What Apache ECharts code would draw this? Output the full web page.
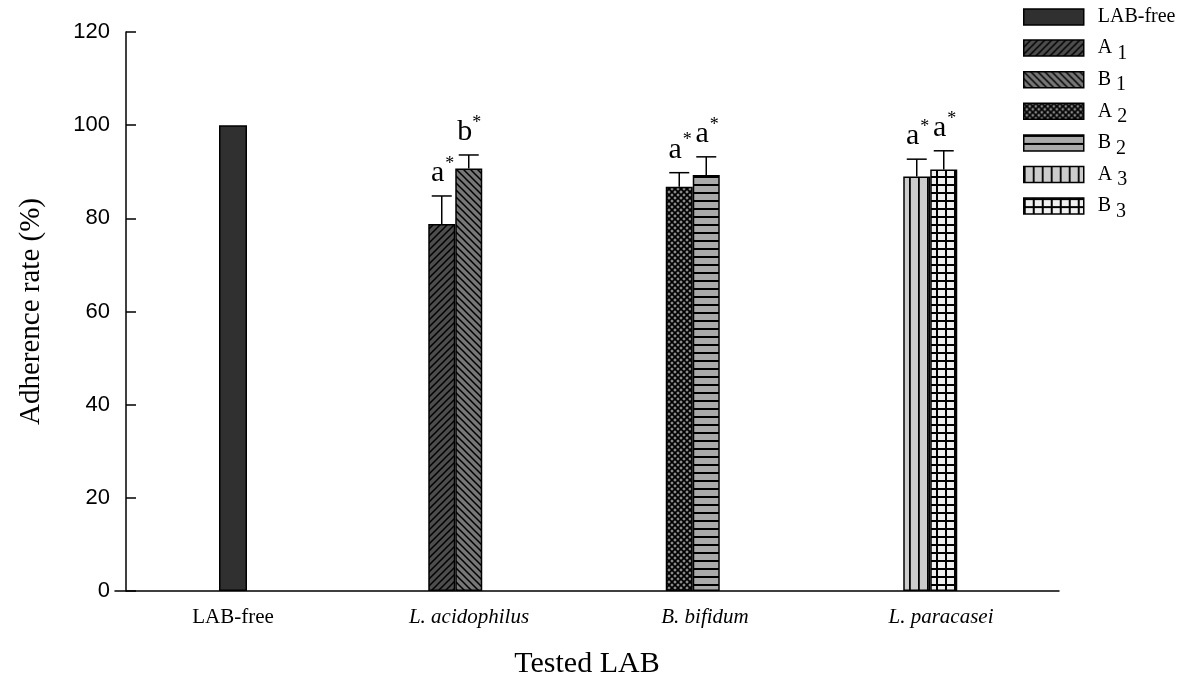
<!DOCTYPE html>
<html>
<head>
<meta charset="utf-8">
<script src="https://cdn.jsdelivr.net/npm/echarts@6/dist/echarts.min.js"></script>
<style>
  html, body { margin: 0; padding: 0; background: #fff; }
  #chart { width: 1203px; height: 685px; }
</style>
</head>
<body>
<div id="chart"></div>
<script>
// data
const categories = ['LAB-free', 'L. acidophilus', 'B. bifidum', 'L. paracasei'];
const legendNames = ['LAB-free', 'A1', 'B1', 'A2', 'B2', 'A3', 'B3'];
const labFreeValue = 100;
// strain pairs for categories 1..3
const meansA = [78.8, 86.8, 89.0];
const meansB = [90.7, 89.3, 90.5];
const errorsA = [6.0, 3.0, 3.7];
const errorsB = [2.9, 3.9, 4.0];
const lettersA = ['a', 'a', 'a'];
const lettersB = ['b', 'a', 'a'];
const yTicks = [0, 20, 40, 60, 80, 100, 120];

const BAR_W = 27;
const SERIF = '"Liberation Serif", "Times New Roman", serif';
const SANS = '"Liberation Sans", Arial, sans-serif';

function pattern(w, h, bg, draw) {
  const c = document.createElement('canvas');
  c.width = w; c.height = h;
  const ctx = c.getContext('2d');
  ctx.fillStyle = bg;
  ctx.fillRect(0, 0, w, h);
  ctx.strokeStyle = '#000';
  ctx.fillStyle = '#000';
  draw(ctx, w, h);
  return { image: c, repeat: 'repeat' };
}

function line(ctx, x1, y1, x2, y2, lw) {
  ctx.lineWidth = lw;
  ctx.beginPath();
  ctx.moveTo(x1, y1);
  ctx.lineTo(x2, y2);
  ctx.stroke();
}

const fills = {
  'LAB-free': '#303030',
  A1: pattern(7, 7, '#4d4d4d', (ctx, w, h) => {
    line(ctx, -1, h + 1, w + 1, -1, 1.5);
    line(ctx, -1, 1, 1, -1, 1.5);
    line(ctx, w - 1, h + 1, w + 1, h - 1, 1.5);
  }),
  B1: pattern(7, 7, '#777777', (ctx, w, h) => {
    line(ctx, -1, -1, w + 1, h + 1, 1.5);
    line(ctx, w - 1, -1, w + 1, 1, 1.5);
    line(ctx, -1, h - 1, 1, h + 1, 1.5);
  }),
  A2: pattern(6, 6, '#8c8c8c', (ctx, w, h) => {
    line(ctx, -1, -1, w + 1, h + 1, 1.7);
    line(ctx, -1, h + 1, w + 1, -1, 1.7);
    line(ctx, w - 1, -1, w + 1, 1, 1.7);
    line(ctx, -1, h - 1, 1, h + 1, 1.7);
    line(ctx, -1, 1, 1, -1, 1.7);
    line(ctx, w - 1, h + 1, w + 1, h - 1, 1.7);
  }),
  B2: pattern(8, 8, '#aaaaaa', (ctx, w) => { ctx.fillRect(0, 0, w, 2); }),
  A3: pattern(9, 8, '#cccccc', (ctx, w, h) => { ctx.fillRect(0, 0, 1.8, h); }),
  B3: pattern(9, 8, '#f0f0f0', (ctx, w, h) => {
    ctx.fillRect(0, 0, 2, h);
    ctx.fillRect(0, 0, w, 2);
  })
};

const barStyle = name => ({ color: fills[name], borderColor: '#000', borderWidth: 1.5 });

const series = [{
  name: 'LAB-free',
  type: 'bar',
  xAxisIndex: 0,
  yAxisIndex: 0,
  barWidth: 28,
  data: categories.map((c, i) => (i === 0 ? labFreeValue : '-')),
  itemStyle: barStyle('LAB-free')
}];

const errorPoints = [];
meansA.forEach((m, k) => {
  const cat = k + 1;
  ['A', 'B'].forEach(side => {
    const name = side + cat;
    const v = side === 'A' ? meansA[k] : meansB[k];
    series.push({
      name,
      type: 'bar',
      xAxisIndex: 1,
      yAxisIndex: 1,
      stack: side,
      barWidth: BAR_W,
      barGap: '0%',
      data: categories.map((c, i) => (i === cat ? v : '-')),
      itemStyle: barStyle(name)
    });
    errorPoints.push({
      value: [cat, v, side === 'A' ? errorsA[k] : errorsB[k], side === 'A' ? -1 : 1],
      letter: side === 'A' ? lettersA[k] : lettersB[k]
    });
  });
});

series.push({
  type: 'custom',
  xAxisIndex: 1,
  yAxisIndex: 1,
  z: 10,
  silent: true,
  data: errorPoints.map(p => p.value),
  renderItem: (params, api) => {
    const cat = api.value(0);
    const mean = api.value(1);
    const err = api.value(2);
    const side = api.value(3);
    const base = api.coord([cat, mean]);
    const top = api.coord([cat, mean + err]);
    const x = base[0] + side * BAR_W / 2;
    const letter = errorPoints[params.dataIndex].letter;
    const stroke = { stroke: '#000', lineWidth: 1.5 };
    return {
      type: 'group',
      children: [
        { type: 'line', shape: { x1: x, y1: base[1], x2: x, y2: top[1] }, style: stroke },
        { type: 'line', shape: { x1: x - 10, y1: top[1], x2: x + 10, y2: top[1] }, style: stroke },
        { type: 'text', style: { text: letter, x: x - 4, y: top[1] - 8, font: '30px ' + SERIF, fill: '#000', align: 'center', verticalAlign: 'bottom' } },
        { type: 'text', style: { text: '*', x: x + 8, y: top[1] - 32, font: '18px ' + SERIF, fill: '#000', align: 'center', verticalAlign: 'middle' } }
      ]
    };
  }
});

const chart = echarts.init(document.getElementById('chart'));

chart.setOption({
  animation: false,
  backgroundColor: '#fff',
  legend: {
    orient: 'vertical',
    left: 1023,
    top: 2,
    padding: 0,
    itemWidth: 60,
    itemHeight: 16,
    itemGap: 0.6,
    icon: 'rect',
    data: legendNames,
    itemStyle: { borderColor: '#000', borderWidth: 1.5 },
    formatter: name => (name.length === 2 ? '{m|' + name[0] + '}{s|' + name[1] + '}' : '{m|' + name + '}'),
    textStyle: {
      fontFamily: SERIF,
      fontSize: 20,
      color: '#000',
      rich: {
        m: { fontFamily: SERIF, fontSize: 20, color: '#000', lineHeight: 20, padding: [5, 0, 5, 9] },
        s: { fontFamily: SERIF, fontSize: 20, color: '#000', lineHeight: 20, padding: [11, 0, 0, 5] }
      }
    }
  },
  grid: [
    { left: 115, right: 144, top: 32, bottom: 94 },
    { left: 99, right: 154, top: 32, bottom: 94 }
  ],
  xAxis: [{
    type: 'category',
    gridIndex: 0,
    data: categories,
    name: 'Tested LAB',
    nameLocation: 'middle',
    nameGap: 58,
    nameTextStyle: { fontFamily: SERIF, fontSize: 30, color: '#000' },
    axisLine: { lineStyle: { color: '#000', width: 1.5 } },
    axisTick: { show: false },
    axisLabel: {
      margin: 16,
      formatter: (v, i) => (i === 0 ? '{n|' + v + '}' : '{i|' + v + '}'),
      rich: {
        n: { fontFamily: SERIF, fontSize: 21, color: '#000' },
        i: { fontFamily: SERIF, fontSize: 21, fontStyle: 'italic', color: '#000' }
      }
    }
  }, {
    type: 'category',
    gridIndex: 1,
    data: categories,
    show: false
  }],
  yAxis: [{
    type: 'value',
    gridIndex: 0,
    min: yTicks[0],
    max: yTicks[yTicks.length - 1],
    interval: 20,
    offset: -11,
    name: 'Adherence rate (%)',
    nameLocation: 'middle',
    nameGap: 80,
    nameTextStyle: { fontFamily: SERIF, fontSize: 29, color: '#000' },
    axisLine: { show: true, lineStyle: { color: '#000', width: 1.5 } },
    axisTick: { show: true, inside: true, length: 10, lineStyle: { color: '#000', width: 1.5 } },
    axisLabel: { margin: 16, fontFamily: SANS, fontSize: 22, color: '#000' },
    splitLine: { show: false }
  }, {
    type: 'value',
    gridIndex: 1,
    min: yTicks[0],
    max: yTicks[yTicks.length - 1],
    show: false,
    splitLine: { show: false }
  }],
  series
});
</script>
</body>
</html>
